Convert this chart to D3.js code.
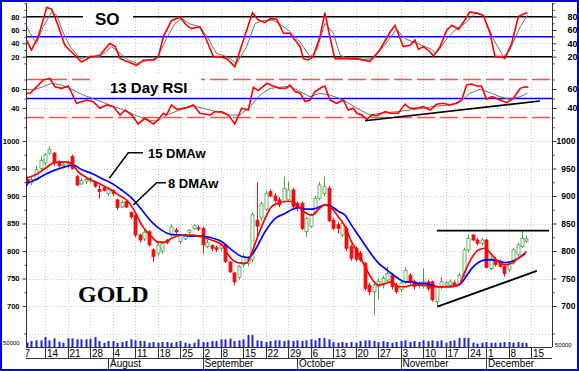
<!DOCTYPE html>
<html><head><meta charset="utf-8">
<script src="https://cdn.jsdelivr.net/npm/d3@7"></script>
<style>body{margin:0;background:#fff}svg{display:block}text{font-family:Arial,"Liberation Sans",sans-serif}</style>
</head><body><svg id="c" width="579" height="371"></svg>
<script>
// ---- categories: trading-day index (0 = Mon 14 Jul 2008) ----
const firstDay = -4;
const weekTickDay   = [-5,0,5,10,15,20,25,30,35,39,44,49,54,59,64,69,74,79,84,89,94,98,103,108];
const weekTickLabel = ["7","14","21","28","4","11","18","25","2","8","15","22","29","6","13","20","27","3","10","17","24","1","8","15"];
const monthDay   = [-9,14,35,56,79,98];
const monthLabel = ["July","August","September","October","November","December"];
const priceTicks = [700,750,800,850,900,950,1000];
const soTicks = [20,40,60,80];
const rsiTicks = [40,60];

// ---- candles (day -4 .. 107) ----
const open  = [930,924,930,950,960,978,978,962,955,958,972,935,922,927,927,925,912,915,905,910,893,880,890,870,865,829,822,835,802,796,800,820,829,838,817,822,834,841,842,841,808,810,806,805,811,780,760,752,775,778,785,856,860,876,908,900,893,890,893,911,887,887,835,845,869,896,905,914,856,848,829,841,808,805,796,778,738,726,735,738,747,756,738,730,744,756,744,738,735,744,744,708,735,738,738,742,741,756,802,829,820,814,820,768,784,781,772,766,778,793,808,818];
const high  = [935,936,955,972,978,990,980,965,962,965,975,938,932,933,935,928,920,918,915,912,895,892,892,872,866,832,838,838,805,815,818,822,848,842,830,832,840,848,846,844,820,812,810,815,812,782,762,775,795,790,870,925,890,910,912,905,898,935,926,915,890,890,862,868,900,926,935,918,860,852,855,845,812,808,800,780,742,745,750,755,772,760,742,745,771,760,748,745,768,748,746,738,753,746,748,746,760,806,829,831,824,824,822,790,788,784,774,780,805,815,838,828];
const low   = [918,920,928,948,955,975,955,952,950,950,948,918,920,922,924,915,895,908,900,900,875,878,878,858,825,815,818,808,780,790,795,812,826,830,812,820,830,838,836,795,805,800,798,800,778,760,738,748,770,772,780,822,855,872,898,888,880,888,890,878,872,838,826,842,866,892,900,852,838,832,825,800,782,780,780,728,720,684,712,732,742,730,722,725,740,740,730,732,732,728,708,699,730,735,735,735,738,752,798,818,810,810,768,765,772,770,753,762,775,790,805,815];
const close = [922,930,948,965,975,985,960,955,958,962,950,920,928,930,932,918,908,910,912,905,879,888,880,862,829,820,834,811,790,811,814,816,844,835,829,830,838,846,840,811,815,805,803,810,781,762,744,772,790,785,866,845,886,905,900,892,884,914,911,881,878,841,859,865,896,920,917,855,841,841,850,805,787,785,784,732,726,738,745,750,759,735,726,742,765,744,735,740,744,732,711,735,744,742,744,739,756,802,823,820,814,820,770,786,775,772,759,775,802,811,823,822];
const volume = [43,60,67,67,100,67,87,53,43,87,87,77,77,77,83,100,60,43,60,60,43,50,60,77,67,60,60,43,50,43,50,50,43,50,60,43,33,43,77,50,50,60,60,77,77,83,60,67,77,120,120,67,60,50,60,67,67,60,67,60,67,60,67,77,67,90,90,77,50,43,50,43,50,43,60,67,67,60,50,60,50,43,50,60,67,50,60,50,67,60,67,60,67,43,60,67,90,90,90,43,33,43,50,43,43,43,50,50,43,50,43,40];

// ---- moving averages ----
const ma8Day = [-4.4,-2.2,0,2.2,4.4,5.9,7.4,9.6,11.9,14.1,16.3,18.5,20,21.5,23.7,25.2,26.7,28.1,30.4,32.6,34.8,37,39.3,40.7,42.2,43.7,44.8,45.9,47.4,48.9,50.4,51.9,53.3,54.8,56.3,57.8,59.3,60.7,62.2,63.7,65.2,66.7,68.1,69.6,71.1,72.6,74.1,75.6,77,78.5,80,81.5,83,84.4,85.9,87.4,89.6,91.9,93.3,94.8,96.3,97.8,99.3,100.7,102.2,103.7,105.2,107];
const ma8    = [932,938,950,961,962,959,944,932,923,914,902,890,871,847,826,816,816,823,829,829,826,820,811,793,781,778,778,796,829,859,881,887,890,890,881,870,865,875,884,878,862,844,817,796,772,750,738,741,744,735,735,738,738,738,735,735,735,738,762,787,802,805,793,781,775,778,787,799];
const ma15Day = [-4.4,-2.2,0,2.2,4.4,6.3,8.1,10.4,12.6,14.8,17,19.3,21.5,23.7,25.9,28.1,30.4,32.6,34.8,37,39.3,41.5,43.7,45.2,46.7,48.9,51.1,53.3,54.8,56.3,57.8,59.3,60.7,62.2,63.7,65.2,66.7,68.1,69.6,71.1,72.6,74.1,75.6,77,78.5,80,81.5,83,84.4,85.9,87.4,89.6,91.9,93.3,94.8,96.3,97.8,99.3,100.7,102.2,103.7,105.2,106.7];
const ma15    = [923,929,939,947,953,956,948,941,932,923,911,896,875,853,838,830,829,827,827,824,817,802,790,788,802,835,859,868,875,879,876,876,879,884,881,872,865,847,829,811,793,778,768,759,750,744,744,741,741,738,735,735,738,750,768,779,784,784,782,779,781,787,795];

// ---- SO (stochastic) ----
const soKDay = [-4.4,-4.1,-3,-1.5,0.4,1.5,3,4.4,5.9,8.1,10,12.2,14.4,15.6,16.7,18.5,20.4,21.9,24.1,25.2,26.3,28.1,30,31.5,32.6,34.4,35.9,37.4,38.9,40.4,42.2,44.1,46.1,47.4,48.9,50,51.5,53,54.4,55.9,56.7,57.4,58.5,59.6,61.1,62.2,63.3,64.4,66.3,69.3,72.2,74.4,76.7,77.8,79.6,81.1,82.2,83,84.1,85.6,86.3,87.8,89.3,90.4,91.9,93.3,94.4,95.9,97.4,98.9,100,101.5,102.2,103.7,105.2,106.3,107.2];
const soK    = [52,45,30,50,94,91,65,37,27,12,19,22,40,35,17,12,7,15,15,20,50,74,79,67,62,65,45,20,20,17,5,45,86,75,71,77,76,55,55,42,35,17,15,20,50,86,50,17,17,17,13,30,57,67,35,37,45,31,35,27,21,35,60,67,61,75,87,85,82,55,20,20,17,40,80,84,86];
const soDDay = [-4.4,-3.3,-1.9,-0.4,1.5,2.6,4.1,5.6,7.8,10,12.2,14.8,16.3,18.5,20.4,22.6,24.8,27,28.9,30.4,32.2,34.4,36.3,38.1,40.4,42.6,44.8,46.7,48.5,50.7,53,54.4,56.7,58.9,60.4,62.2,64.1,65.6,67.8,70.7,73,75.2,78.1,80,82.6,85.6,87,89.3,91.5,93.7,95.9,97.4,99.6,101.9,103.3,105.6,107.2];
const soD    = [70,55,40,65,87,82,55,35,17,21,20,35,27,15,10,14,17,47,70,77,69,65,47,25,20,10,35,70,74,75,65,58,42,20,30,70,55,22,16,16,17,35,61,47,40,32,25,47,62,72,87,82,47,20,30,65,82];

// ---- 13 day RSI ----
const rsiDay = [-4.4,-3.3,-2.2,-0.4,1.1,2.2,3.7,5.2,7,9.3,10.7,12.2,13.7,15.2,16.7,17.8,19.3,20.7,22.2,24.1,25.2,26.3,27,28.1,29.3,31.5,33,34.4,36.7,37.8,39.3,40.7,42.2,43.7,45.2,46.3,47.4,49.3,50.7,52.2,53.7,54.4,55.6,56.7,57.8,58.9,60,61.5,62.2,63.3,64.8,66.3,67.4,68.5,69.3,70.4,71.5,72.6,73.7,75.6,76.7,78.5,80,81.1,82.6,84.1,85.6,87,88.5,90,91.5,92.6,93.7,94.8,95.9,97,98.1,99.3,101.1,102.6,104.1,105.6,106.7,107.4];
const rsi    = [55.5,55.5,60.7,69.5,71.2,62.4,60.7,63.2,45,48.4,46.7,39.7,43.2,41.4,32.6,37.9,32.6,23.2,29.1,23.2,28,34.4,32.6,43.2,38.6,40.6,43.2,34.4,32.6,36.1,36.1,32.6,23.2,39.7,37.9,61.8,58.3,66,63.2,60.7,61,64,57.3,55.5,46.7,48.4,57.3,61.8,63.2,48.4,45,48.4,37.9,39.7,34.4,32.6,28,32.6,31.9,36.1,34.4,34.4,44.1,39.7,39.7,41.4,37.9,43.9,45,43.2,45,48.4,64.2,65.3,63.2,63.2,49.1,51.9,48.4,45.6,50.2,60.7,62.4,61.8];
const rsiAvgDay = [-4.4,-2.6,-0.4,1.5,3.7,5.9,8.5,11.5,14.4,17.4,20.4,22.6,24.8,27,30,33,35.2,38.1,41.1,43.3,45.6,47.8,50,52.2,54.4,56.7,58.9,61.1,63.3,66.3,69.3,72.2,75.2,78.1,81.1,84.1,87,90,92.2,94.4,96.7,98.9,101.1,103.3,105.6,107.2];
const rsiAvg    = [59.7,59,62.4,66,64.2,59.7,53.7,48.4,43.2,37.9,31.9,27.7,26,32.6,37.9,42.1,39.7,36.1,32.6,32.6,41.4,53.7,60.7,61.8,62.8,57.3,51.9,55.5,53.7,48.4,39.7,32.6,35,36.1,37.9,39.7,42.1,43.2,46.7,55.5,59.7,56.2,51.9,49.1,51.9,55.5];

// ---- trend lines [day, value] ----
const rsiTrend = [[71.1,26.6],[110,47.4]];
const resistance = [[87.1,837],[112,837]];
const support = [[87.2,699],[109.3,764]];

// ---------------- drawing ----------------
const svg = d3.select("#c");
const L = 26, R = 552, PT = 3, PB = 347;
const x = d3.scaleLinear().domain([0,108]).range([45,531]);
const ySO = d3.scaleLinear().domain([0,100]).range([70,3.3]);
const yRSI = d3.scaleLinear().domain([40,60]).range([108,89]);
const yP = d3.scaleLinear().domain([700,1000]).range([306,141]);
const yV = d3.scaleLinear().domain([0,150]).range([347,332]);
const fmt = d3.format("d");

svg.append("rect").attr("width",579).attr("height",371).attr("fill","#fff");
const defs = svg.append("defs");
defs.append("clipPath").attr("id","pc").append("rect").attr("x",L).attr("y",PT).attr("width",R-L).attr("height",PB-PT);
defs.append("clipPath").attr("id","ac").append("rect").attr("x",L).attr("y",PB).attr("width",R-L).attr("height",371-PB);

const grid = svg.append("g").attr("stroke","#c8c8c8").attr("stroke-dasharray","1,2").attr("stroke-width",1);
grid.selectAll("line.v").data(weekTickDay.filter(d=>x(d)>L&&x(d)<R)).join("line")
  .attr("x1",d=>Math.round(x(d))+0.5).attr("x2",d=>Math.round(x(d))+0.5).attr("y1",PT).attr("y2",PB);
const hg = [...[40,60].map(v=>ySO(v)), ...rsiTicks.map(v=>yRSI(v)), ...[650].concat(priceTicks).map(v=>yP(v))];
grid.selectAll("line.h").data(hg).join("line")
  .attr("x1",L).attr("x2",R).attr("y1",d=>Math.round(d)+0.5).attr("y2",d=>Math.round(d)+0.5);

const plot = svg.append("g").attr("clip-path","url(#pc)");

// reference lines
function hline(y,col,w,dash){
  plot.append("line").attr("x1",L).attr("x2",R).attr("y1",y).attr("y2",y)
    .attr("stroke",col).attr("stroke-width",w).attr("stroke-dasharray",dash||null);
}
hline(ySO(80),"#000",1.5); hline(ySO(20),"#000",1.5); hline(ySO(50),"#0000ff",1.5);
hline(yRSI(50),"#0000ff",1.5);
hline(yRSI(70),"#ff5050",1.3,"18,5"); hline(yRSI(30),"#ff5050",1.3,"18,5");

// text boxes
plot.append("rect").attr("x",83).attr("y",8).attr("width",50).attr("height",19).attr("fill","#fff");
plot.append("rect").attr("x",95).attr("y",73).attr("width",106).attr("height",13).attr("fill","#fff");
svg.append("text").attr("x",95).attr("y",25).attr("font-size",17).attr("font-weight","bold").text("SO");
svg.append("text").attr("x",110).attr("y",92.5).attr("font-size",15).attr("font-weight","bold").text("13 Day RSI");

// SO lines
const lineSO = d3.line().x(d=>x(d[0])).y(d=>ySO(d[1]));
plot.append("path").attr("d",lineSO(d3.zip(soDDay,soD))).attr("fill","none").attr("stroke","#707070").attr("stroke-width",1);
plot.append("path").attr("d",lineSO(d3.zip(soKDay,soK))).attr("fill","none").attr("stroke","#ff0000").attr("stroke-width",1.6);

// RSI lines
const lineR = d3.line().x(d=>x(d[0])).y(d=>yRSI(d[1]));
plot.append("path").attr("d",lineR(d3.zip(rsiAvgDay,rsiAvg))).attr("fill","none").attr("stroke","#707070").attr("stroke-width",1);
plot.append("path").attr("d",lineR(d3.zip(rsiDay,rsi))).attr("fill","none").attr("stroke","#ff0000").attr("stroke-width",1.6);
plot.append("path").attr("d",lineR(rsiTrend)).attr("fill","none").attr("stroke","#000").attr("stroke-width",1.6);

// volume
const days = d3.range(open.length).map(i=>firstDay+i);
plot.append("g").selectAll("rect").data(days).join("rect")
  .attr("x",d=>Math.round(x(d))-0.5).attr("width",2)
  .attr("y",(d,i)=>yV(volume[i])).attr("height",(d,i)=>yV(0)-yV(volume[i]))
  .attr("fill","#2222dd");

// candles
const green = "#44a044", red = "#ee1111";
const cg = plot.append("g").selectAll("g").data(days).join("g");
cg.append("line")
  .attr("x1",d=>Math.round(x(d))+0.5).attr("x2",d=>Math.round(x(d))+0.5)
  .attr("y1",(d,i)=>yP(high[i])).attr("y2",(d,i)=>yP(low[i]))
  .attr("stroke",(d,i)=>close[i]>=open[i]?green:red).attr("stroke-width",1);
cg.append("rect")
  .attr("x",d=>Math.round(x(d))-1)
  .attr("width",3)
  .attr("y",(d,i)=>yP(Math.max(open[i],close[i])))
  .attr("height",(d,i)=>Math.max(1,yP(Math.min(open[i],close[i]))-yP(Math.max(open[i],close[i]))))
  .attr("fill",(d,i)=>close[i]>=open[i]?"#fff":red)
  .attr("stroke",(d,i)=>close[i]>=open[i]?green:red).attr("stroke-width",0.8);

// moving averages
const lineP = d3.line().x(d=>x(d[0])).y(d=>yP(d[1])).curve(d3.curveMonotoneX);
plot.append("path").attr("d",lineP(d3.zip(ma15Day,ma15))).attr("fill","none").attr("stroke","#0000ff").attr("stroke-width",1.7);
plot.append("path").attr("d",lineP(d3.zip(ma8Day,ma8))).attr("fill","none").attr("stroke","#ff0000").attr("stroke-width",1.7);

// trend lines on price
const lineT = d3.line().x(d=>x(d[0])).y(d=>yP(d[1]));
plot.append("path").attr("d",lineT(resistance)).attr("stroke","#000").attr("stroke-width",1.6).attr("fill","none");
plot.append("path").attr("d",lineT(support)).attr("stroke","#000").attr("stroke-width",1.8).attr("fill","none");

// annotations
svg.append("path").attr("d","M143,152.7L128.3,152.7L109.3,178.3").attr("stroke","#000").attr("stroke-width",1.5).attr("fill","none");
svg.append("path").attr("d","M166,182.7L156.7,182.7L133.3,205").attr("stroke","#000").attr("stroke-width",1.5).attr("fill","none");
svg.append("text").attr("x",148).attr("y",157.5).attr("font-size",13).attr("font-weight","bold").text("15 DMAw");
svg.append("text").attr("x",168).attr("y",187.5).attr("font-size",13).attr("font-weight","bold").text("8 DMAw");
svg.append("text").attr("x",78).attr("y",302).attr("font-size",24).attr("font-weight","bold")
  .style("font-family","'Liberation Serif','Times New Roman',serif").text("GOLD");

// axes
svg.append("line").attr("x1",L+0.5).attr("x2",L+0.5).attr("y1",PT).attr("y2",PB).attr("stroke","#333");
svg.append("line").attr("x1",R+0.5).attr("x2",R+0.5).attr("y1",PT).attr("y2",PB).attr("stroke","#333");
function leftAxis(scale,vals,minor){
  const g = svg.append("g").attr("transform",`translate(${L+0.5},0)`);
  g.call(d3.axisLeft(scale).tickValues(minor).tickSize(2).tickFormat(""));
  g.selectAll(".domain").remove();
  const g2 = svg.append("g").attr("transform",`translate(${L+0.5},0)`);
  g2.call(d3.axisLeft(scale).tickValues(vals).tickSize(4).tickPadding(3).tickFormat(fmt));
  g2.selectAll(".domain").remove();
  g2.selectAll("text").attr("font-size",7.5).attr("font-weight","bold").attr("font-family","Arial,'Liberation Sans',sans-serif").attr("fill","#000");
  g.selectAll("line").attr("stroke","#333"); g2.selectAll("line").attr("stroke","#333");
}
function rightAxis(scale,vals,minor,xr,fs){
  const g = svg.append("g").attr("transform",`translate(${R+0.5},0)`);
  g.call(d3.axisRight(scale).tickValues(minor).tickSize(2).tickFormat(""));
  g.selectAll(".domain").remove();
  const g2 = svg.append("g").attr("transform",`translate(${R+0.5},0)`);
  g2.call(d3.axisRight(scale).tickValues(vals).tickSize(4).tickFormat(fmt));
  g2.selectAll(".domain").remove();
  g2.selectAll("text").attr("x",xr).attr("text-anchor","end").attr("font-size",fs).attr("font-weight","bold").attr("font-family","Arial,'Liberation Sans',sans-serif").attr("fill","#000");
  g.selectAll("line").attr("stroke","#333"); g2.selectAll("line").attr("stroke","#333");
}
leftAxis(ySO,soTicks,[10,30,50,70,90,100]);
leftAxis(yRSI,rsiTicks,[30,50,70]);
leftAxis(yP,priceTicks,[650,725,775,825,875,925,975,1025]);
rightAxis(ySO,soTicks,[10,30,50,70,90,100],25,9);
rightAxis(yRSI,rsiTicks,[30,50,70],25,9);
rightAxis(yP,priceTicks,[650,725,775,825,875,925,975,1025],23,8.5);
svg.append("text").attr("x",3).attr("y",345).attr("font-size",6).text("50000");
svg.append("text").attr("x",555).attr("y",347).attr("font-size",6).text("50000");

// date axis rows
const ax = svg.append("g");
ax.append("line").attr("x1",L).attr("x2",R).attr("y1",PB+0.5).attr("y2",PB+0.5).attr("stroke","#333");
ax.append("line").attr("x1",L).attr("x2",R).attr("y1",358.5).attr("y2",358.5).attr("stroke","#333");
const axc = ax.append("g").attr("clip-path","url(#ac)");
axc.selectAll("line.w").data(weekTickDay).join("line")
  .attr("x1",d=>Math.round(x(d))+0.5).attr("x2",d=>Math.round(x(d))+0.5).attr("y1",PB).attr("y2",358.5).attr("stroke","#333");
axc.selectAll("text.w").data(weekTickDay).join("text")
  .attr("x",d=>x(d)+2).attr("y",357).attr("font-size",10).text((d,i)=>weekTickLabel[i]);
axc.selectAll("line.m").data(monthDay).join("line")
  .attr("x1",d=>Math.round(x(d))+0.5).attr("x2",d=>Math.round(x(d))+0.5).attr("y1",358.5).attr("y2",369).attr("stroke","#333");
axc.selectAll("text.m").data(monthDay).join("text")
  .attr("x",d=>x(d)+2).attr("y",366.5).attr("font-size",10).text((d,i)=>monthLabel[i]);

// blue frame
svg.append("rect").attr("x",1).attr("y",1).attr("width",577).attr("height",369).attr("fill","none").attr("stroke","#0000ee").attr("stroke-width",2);
</script></body></html>
